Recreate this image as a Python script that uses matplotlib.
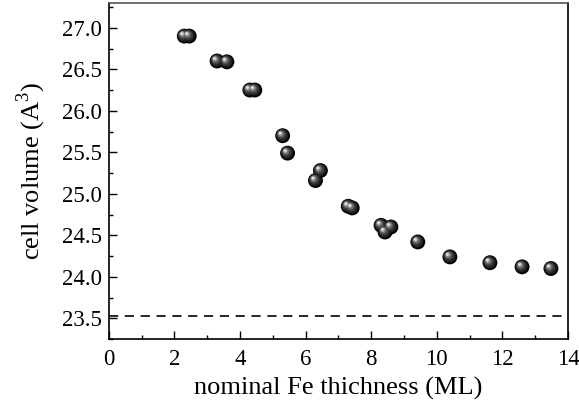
import matplotlib
matplotlib.use('Agg')
import matplotlib.pyplot as plt
from matplotlib.transforms import offset_copy
from matplotlib.ticker import MultipleLocator

plt.rcParams['font.family'] = ['Liberation Serif', 'DejaVu Serif']
plt.rcParams['mathtext.fontset'] = 'custom'
plt.rcParams['mathtext.rm'] = 'Liberation Serif'

# nominal Fe thickness (ML) and cell volume (A^3)
thickness = [2.3, 2.45, 3.3, 3.6, 4.3, 4.45, 5.3, 5.45, 6.3, 6.45,
             7.3, 7.42, 8.3, 8.42, 8.6, 9.42, 10.4, 11.62, 12.6, 13.48]
volume = [26.9, 26.9, 26.6, 26.59, 26.25, 26.25, 25.7, 25.49, 25.16, 25.28,
          24.85, 24.83, 24.62, 24.54, 24.6, 24.42, 24.24, 24.17, 24.12, 24.1]
bulk_volume = 23.53

fig = plt.figure(figsize=(5.79, 4.12), dpi=100)
ax = fig.add_axes([0.188, 0.177, 0.793, 0.816])

ax.axhline(bulk_volume, color='black', lw=1.2, ls=(0, (5.5, 4)))

# shaded "sphere" markers: stacked circles getting lighter toward upper-left
layers = [(115, '#000000', 0.0, 0.0),
          (80, '#202020', -0.4, 0.4),
          (48, '#3c3c3c', -0.8, 0.8),
          (25, '#6a6a6a', -1.2, 1.2),
          (10, '#a8a8a8', -1.6, 1.6),
          (3, '#e8e8e8', -1.8, 1.8)]
for s, c, dx, dy in layers:
    tr = offset_copy(ax.transData, fig=fig, x=dx, y=dy, units='points')
    ax.scatter(thickness, volume, s=s, color=c, edgecolors='none',
               transform=tr, zorder=3)

ax.set_xlim(0, 14)
ax.set_ylim(23.25, 27.3)
ax.xaxis.set_major_locator(MultipleLocator(2))
ax.xaxis.set_minor_locator(MultipleLocator(1))
ax.yaxis.set_major_locator(MultipleLocator(0.5))
ax.yaxis.set_minor_locator(MultipleLocator(0.25))
ax.yaxis.set_major_formatter(plt.FormatStrFormatter('%.1f'))
ax.tick_params(which='both', direction='in', top=False, right=False, labelsize=16.5)
ax.tick_params(which='major', length=6, width=1)
ax.tick_params(which='minor', length=3, width=1)
ax.tick_params(axis='y', pad=5)
ax.tick_params(axis='x', pad=7)
for sp in ax.spines.values():
    sp.set_linewidth(1.2)
ax.spines['top'].set_color('#555555')

ax.set_xlabel('nominal Fe thichness (ML)', fontsize=19, labelpad=5)
ax.set_ylabel('cell volume (A$^3$)', fontsize=19, labelpad=10)

fig.savefig('out.png', dpi=100)
